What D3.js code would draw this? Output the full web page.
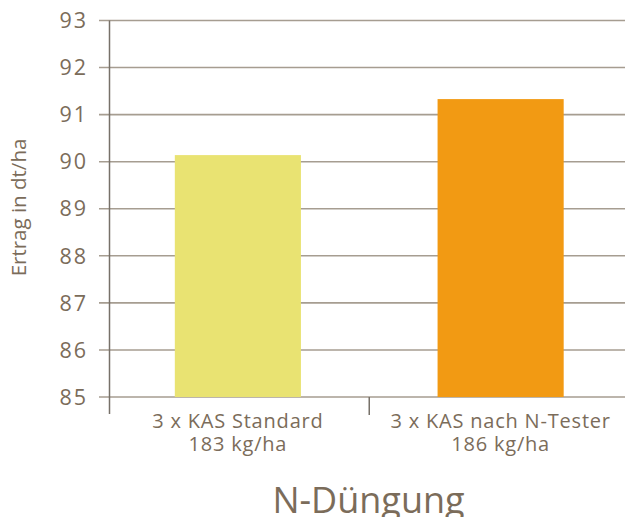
<!DOCTYPE html>
<html><head><meta charset="utf-8">
<script src="https://cdn.jsdelivr.net/npm/d3@7"></script>
<style>body{margin:0;background:#fff}svg{display:block}</style>
</head><body>
<svg id="c" width="625" height="517"></svg>
<script>
const categories = [["3 x KAS Standard","183 kg/ha"],["3 x KAS nach N-Tester","186 kg/ha"]];
const values = [90.14, 91.33];
const colors = ["#e9e372","#f29a13"];
const yTicks = [85,86,87,88,89,90,91,92,93];
const yTitle = "Ertrag in dt/ha";
const xTitle = "N-Düngung";

(function(){
const svg = d3.select("#c");
const font = "'Open Sans', sans-serif";
const txt = "#7b6c5a";
const mLeft = 109.5, mRight = 632, mTop = 20.5, mBottom = 397;
const x = d3.scaleBand().domain(d3.range(categories.length)).range([mLeft-3, mRight]).paddingInner(0.52).paddingOuter(0.26);
const y = d3.scaleLinear().domain([85,93]).range([mBottom, mTop]);

svg.append("g").selectAll("line").data(yTicks).join("line")
  .attr("x1", 99).attr("x2", 625)
  .attr("y1", d=>y(d)).attr("y2", d=>y(d))
  .attr("stroke", "#a69d91").attr("stroke-width", 1.6);

svg.append("g").selectAll("rect").data(values).join("rect")
  .attr("x", (d,i)=>x(i)).attr("width", x.bandwidth())
  .attr("y", d=>y(d)).attr("height", d=>mBottom - y(d))
  .attr("fill", (d,i)=>colors[i]);

svg.append("line").attr("x1", mLeft).attr("x2", mLeft).attr("y1", mTop).attr("y2", 414)
  .attr("stroke", "#777169").attr("stroke-width", 1.5);
const sep = (x(0)+x.bandwidth() + x(1))/2;
svg.append("line").attr("x1", sep).attr("x2", sep).attr("y1", mBottom).attr("y2", 415)
  .attr("stroke", "#777169").attr("stroke-width", 1.5);

svg.append("g").selectAll("text").data(yTicks).join("text")
  .attr("x", 88).attr("y", d=>y(d)).attr("dy", "0.36em")
  .attr("text-anchor", "end").attr("font-family", font).attr("font-size", 21.5)
  .attr("letter-spacing", 2)
  .attr("fill", txt).text(d=>d);

const cl = svg.append("g").selectAll("text").data(categories).join("text")
  .attr("text-anchor", "middle").attr("font-family", font).attr("font-size", 20)
  .attr("letter-spacing", 0.8)
  .attr("fill", txt);
cl.append("tspan").attr("x", (d,i)=>x(i)+x.bandwidth()/2).attr("y", 428).text(d=>d[0]);
cl.append("tspan").attr("x", (d,i)=>x(i)+x.bandwidth()/2).attr("y", 451).text(d=>d[1]);

svg.append("text").attr("x", 368.5).attr("y", 512.7).attr("text-anchor", "middle")
  .attr("font-family", font).attr("font-size", 36).attr("fill", txt).text(xTitle);

svg.append("text").attr("transform", "translate(26,207.5) rotate(-90)").attr("text-anchor", "middle")
  .attr("font-family", font).attr("font-size", 20.5).attr("fill", txt).text(yTitle);
})();
</script>
</body></html>
